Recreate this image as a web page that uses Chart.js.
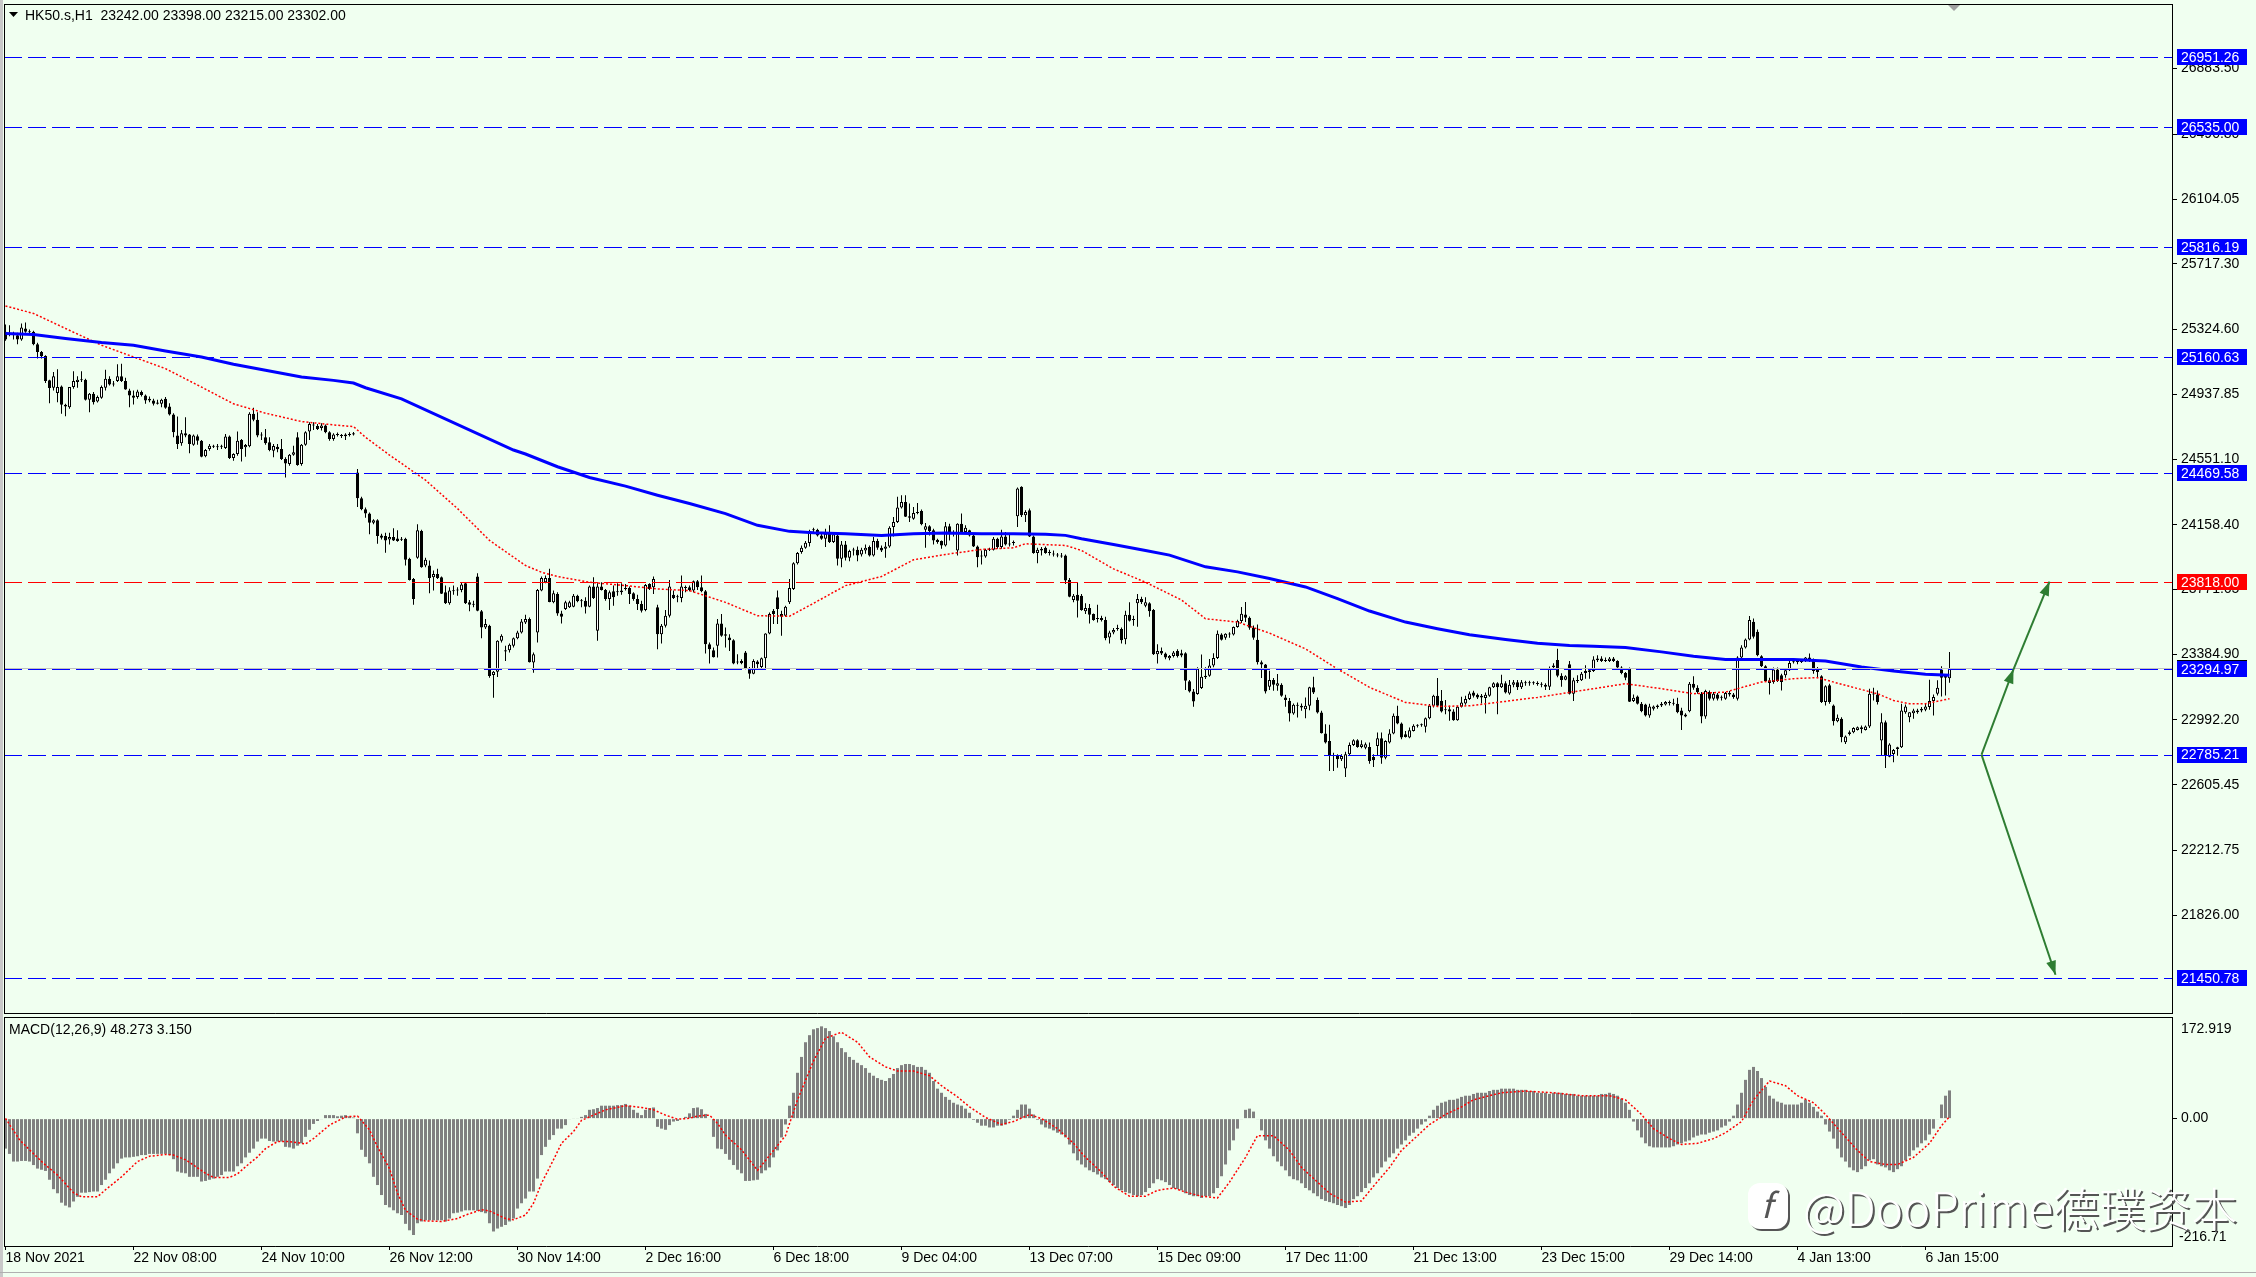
<!DOCTYPE html>
<html>
<head>
<meta charset="utf-8">
<script src="https://cdn.jsdelivr.net/npm/chart.js@4.4.0/dist/chart.umd.min.js"></script>
<style>
  html, body { margin: 0; padding: 0; background: #F0FFF0; }
  #wrap { position: relative; width: 2256px; height: 1277px; overflow: hidden; background: #F0FFF0; }
  canvas { position: absolute; left: 0; }
  #price { top: 0; }
  #macd { top: 1015px; }
</style>
</head>
<body>
<div id="wrap">
  <canvas id="price" width="2256" height="1015"></canvas>
  <canvas id="macd" width="2256" height="262"></canvas>
</div>
<script>
// HK50.s H1 candles, 18 Nov 2021 .. 6 Jan 2022
const opens = [
  25311,25301,25297,25291,25265,25331,25311,25311,25237,25191,
  25167,25021,24977,24945,24985,24875,24861,24981,25011,25021,
  25025,24905,24941,24895,24917,24977,25031,25001,25017,25045,
  25017,24961,24931,24921,24951,24931,24911,24901,24889,24881,
  24911,24865,24817,24691,24645,24705,24697,24637,24687,24661,
  24567,24611,24625,24625,24625,24617,24685,24557,24581,24665,
  24621,24627,24821,24785,24695,24681,24651,24601,24625,24611,
  24551,24521,24577,24681,24521,24637,24715,24757,24749,24737,
  24751,24711,24671,24695,24695,24687,24695,24697,24471,24317,
  24251,24225,24171,24185,24095,24091,24071,24085,24077,
  24075,24075,23955,23835,23961,24121,23915,23915,23845,23865,
  23845,23755,23689,23765,23765,23769,23809,23695,23685,23849,
  23641,23545,23555,23261,23281,23465,23409,23409,23435,23481,
  23515,23575,23595,23335,23515,23765,23815,23841,23695,23745,
  23629,23655,23665,23669,23735,23701,23705,23669,23789,23525,
  23789,23769,23715,23761,23755,23755,23775,23781,23749,23715,
  23685,23649,23805,23785,23665,23505,23555,23615,23741,23725,
  23721,23785,23785,23765,23821,23785,23761,23445,23409,23435,
  23569,23495,23485,23469,23341,23345,23395,23301,23269,23341,
  23309,23361,23509,23645,23725,23625,23615,23695,
  23775,23929,23995,24021,24049,24125,24129,24095,24075,24105,
  24055,24095,23955,24041,23961,24005,24009,23981,24005,24025,
  23975,24061,24021,24015,24029,24145,24175,24261,24295,24209,
  24195,24229,24241,24129,24149,24125,24069,24061,24035,24149,
  24115,24005,24165,24115,24125,24095,24029,23975,23969,24009,
  24009,24075,24025,24089,24045,24049,24209,24385,24215,24245,
  24089,23989,24005,24021,23995,23985,23981,23975,23975,23829,
  23709,23741,23735,23641,23661,23625,23601,23601,23589,23485,
  23515,23535,23535,23475,23621,23595,23689,23715,23675,23689,
  23649,23385,23405,23389,23361,23375,23405,
  23391,23391,23223,23163,23147,23183,23247,23257,23317,23363,
  23503,23483,23507,23503,23547,23583,23623,23603,23543,23471,
  23337,23323,23191,23231,23197,23203,23127,23107,23031,23077,
  23077,23057,23077,23187,23111,23037,22911,22867,22783,22777,
  22757,22703,22787,22843,22871,22831,22827,22831,22771,22837,
  22883,22767,22857,22911,23017,22971,22907,22887,22927,22957,
  22961,22951,23003,23077,23137,23107,23051,23057,23043,22991,
  23071,23091,23117,23157,23143,23137,23123,23137,23187,23211,
  23187,23211,23151,23203,23217,23187,23217,23211,23215,23211,
  23207,23203,23191,23317,23351,23257,23233,
  23325,23149,23229,23229,23273,23279,23285,23349,23359,23349,
  23345,23359,23345,23305,23273,23299,23105,23133,23089,23085,
  23019,23059,23069,23079,23085,23093,23093,23089,23049,23025,
  23045,23209,23185,23149,23013,23159,23119,23145,23125,23119,
  23153,23145,23119,23365,23425,23473,23579,23519,23373,23313,
  23229,23219,23293,23259,23259,23289,23339,23339,23339,23345,
  23365,23349,23299,23253,23099,23199,23079,22985,22999,22859,
  22909,22919,22933,22949,22933,22953,23149,23145,22869,22979,
  22773,22789,22819,22829,23039,23009,23033,23039,23049,23053,
  23069,23105,23149,23293,23259,23242
];
const highs = [
  25355,25351,25311,25305,25361,25367,25325,25317,25245,25197,
  25171,25025,25071,25087,24991,24881,24981,25075,25045,25075,
  25031,24945,24951,24931,24991,25085,25045,25017,25117,25121,
  25037,24971,24961,24965,24961,24937,24925,24911,24905,24911,
  24921,24885,24825,24805,24725,24801,24701,24697,24697,24665,
  24611,24641,24637,24641,24637,24701,24691,24585,24715,24671,
  24641,24831,24857,24831,24711,24731,24681,24641,24641,24671,
  24561,24581,24631,24711,24641,24717,24771,24771,24761,24765,
  24757,24717,24705,24709,24701,24705,24711,24713,24491,24325,
  24261,24231,24191,24191,24105,24111,24111,24137,24125,
  24085,24081,23961,23841,24161,24129,23961,23945,23885,23895,
  23849,23795,23785,23795,23785,23815,23815,23709,23705,23869,
  23649,23595,23561,23285,23469,23505,23435,23449,23485,23525,
  23595,23621,23605,23395,23775,23849,23855,23895,23765,23755,
  23645,23705,23705,23745,23741,23715,23725,23795,23845,23809,
  23815,23775,23765,23795,23809,23809,23805,23789,23755,23741,
  23705,23805,23809,23849,23681,23565,23649,23829,23765,23741,
  23855,23795,23795,23825,23829,23855,23769,23455,23425,23595,
  23625,23545,23505,23475,23385,23355,23405,23309,23355,23349,
  23365,23511,23635,23655,23765,23645,23675,23835,
  23935,23995,24035,24061,24129,24141,24135,24105,24135,24155,
  24115,24101,24061,24061,24009,24021,24029,24021,24041,24035,
  24085,24075,24035,24055,24149,24205,24325,24335,24335,24285,
  24265,24289,24249,24169,24155,24135,24075,24065,24175,24165,
  24125,24167,24225,24155,24129,24101,24035,24005,24015,24021,
  24085,24081,24129,24115,24109,24065,24381,24389,24245,24255,
  24095,24021,24025,24029,24009,24005,23989,23989,23981,23841,
  23745,23815,23745,23689,23685,23629,23681,23615,23609,23525,
  23541,23561,23545,23645,23695,23615,23745,23729,23725,23695,
  23655,23445,23425,23395,23381,23405,23415,
  23411,23397,23231,23177,23307,23383,23307,23357,23391,23527,
  23511,23511,23517,23551,23591,23667,23697,23611,23557,23563,
  23347,23327,23287,23243,23267,23211,23143,23123,23091,23097,
  23091,23127,23191,23251,23127,23047,22967,22963,22797,22787,
  22787,22803,22857,22877,22877,22871,22857,22857,22787,22917,
  22917,22871,22937,23031,23077,22977,22927,22947,22967,22967,
  22971,23007,23087,23143,23243,23171,23111,23077,23057,23077,
  23131,23137,23163,23167,23151,23147,23157,23191,23217,23217,
  23263,23223,23231,23231,23231,23231,23227,23227,23223,23223,
  23217,23211,23311,23331,23417,23271,23259,
  23345,23245,23259,23279,23319,23293,23373,23379,23373,23365,
  23369,23369,23349,23313,23279,23305,23145,23139,23099,23089,
  23089,23079,23085,23099,23105,23109,23119,23125,23065,23033,
  23219,23253,23199,23159,23173,23169,23159,23153,23139,23159,
  23165,23153,23373,23439,23479,23613,23599,23533,23379,23319,
  23245,23305,23305,23269,23293,23345,23345,23349,23353,23369,
  23389,23359,23309,23259,23199,23209,23085,23025,23009,22899,
  22929,22949,22953,22959,22959,23179,23185,23169,23033,22989,
  22853,22819,22833,23089,23085,23039,23059,23059,23069,23089,
  23233,23145,23229,23313,23265,23398
];
const lows = [
  25257,25285,25265,25237,25257,25305,25297,25231,25151,25151,
  25005,24885,24961,24891,24821,24807,24851,24971,24977,25011,
  24901,24831,24877,24889,24911,24961,24991,24985,25011,25011,
  24965,24861,24877,24911,24925,24881,24891,24871,24877,24861,
  24851,24811,24681,24611,24631,24681,24585,24631,24637,24561,
  24561,24601,24617,24605,24611,24611,24551,24541,24571,24537,
  24565,24621,24777,24681,24665,24637,24597,24561,24591,24545,
  24441,24511,24571,24511,24511,24631,24665,24725,24725,24721,
  24705,24661,24661,24685,24677,24665,24685,24691,24265,24245,
  24201,24101,24161,24045,24071,23991,24041,24061,24057,
  24061,23915,23825,23681,23955,23901,23905,23749,23765,23835,
  23745,23685,23681,23741,23735,23755,23685,23641,23665,23641,
  23481,23535,23245,23125,23249,23455,23345,23395,23425,23475,
  23509,23565,23335,23275,23455,23761,23809,23695,23689,23615,
  23569,23649,23661,23665,23695,23665,23629,23665,23715,23465,
  23765,23705,23649,23675,23735,23741,23765,23685,23705,23649,
  23635,23641,23769,23745,23415,23449,23545,23605,23715,23695,
  23695,23755,23761,23755,23769,23755,23389,23329,23365,23365,
  23489,23425,23405,23325,23325,23325,23295,23239,23265,23301,
  23301,23295,23505,23565,23565,23495,23609,23685,
  23769,23921,23985,24015,24029,24115,24089,24069,24025,24049,
  24049,23915,23905,23945,23941,23975,23941,23969,23985,23969,
  23969,24009,23995,23961,24021,24089,24169,24255,24205,24175,
  24189,24221,24155,24021,24095,24041,24045,24015,24029,24065,
  24089,23975,24109,24109,24089,24025,23905,23921,23961,24001,
  24005,24015,24015,24035,24029,24035,24145,24205,24175,24085,
  23985,23929,23975,23985,23975,23969,23965,23961,23805,23725,
  23695,23605,23645,23625,23569,23585,23575,23581,23469,23449,
  23505,23525,23449,23445,23581,23555,23549,23685,23665,23609,
  23381,23329,23381,23355,23349,23365,23365,
  23367,23171,23157,23071,23143,23177,23237,23251,23307,23357,
  23467,23471,23483,23497,23543,23571,23577,23531,23471,23323,
  23243,23151,23171,23167,23167,23131,23071,22983,23023,23007,
  23047,23003,23051,23147,23031,22911,22851,22687,22687,22707,
  22747,22651,22777,22837,22827,22823,22817,22731,22711,22777,
  22731,22757,22851,22907,22967,22877,22887,22883,22923,22947,
  22951,22917,22997,23067,23071,23037,23027,22987,22987,22987,
  23067,23083,23111,23127,23117,23091,23031,23131,23183,23027,
  23183,23151,23143,23187,23171,23177,23197,23197,23203,23197,
  23187,23171,23171,23297,23247,23191,23229,
  23145,23105,23213,23225,23239,23239,23279,23339,23339,23339,
  23339,23339,23299,23265,23229,23099,23099,23085,23039,23013,
  23005,23049,23059,23069,23079,23079,23079,23033,22933,23009,
  23039,23173,23149,22973,22999,23109,23109,23109,23109,23113,
  23133,23119,23109,23359,23419,23469,23479,23373,23309,23219,
  23145,23209,23219,23169,23245,23285,23329,23325,23333,23339,
  23339,23269,23249,23093,23079,23089,22959,22979,22859,22849,
  22899,22913,22929,22913,22929,22945,23109,23085,22779,22705,
  22769,22739,22779,22825,23029,22979,22999,23029,23039,23045,
  23053,23019,23139,23133,23139,23215
];
const closes = [
  25265,25297,25291,25265,25337,25311,25309,25237,25191,25165,
  25017,24975,25045,24981,24875,24865,24981,25017,25025,25025,
  24905,24941,24891,24921,24981,25031,24997,24997,25045,25017,
  24967,24931,24917,24955,24933,24901,24901,24881,24881,24905,
  24857,24817,24711,24641,24705,24691,24641,24691,24661,24565,
  24605,24631,24627,24621,24629,24685,24557,24581,24661,24611,
  24635,24821,24785,24691,24691,24645,24605,24629,24609,24551,
  24525,24577,24591,24515,24637,24711,24761,24751,24731,24751,
  24711,24671,24697,24697,24689,24697,24697,24705,24317,24251,
  24225,24171,24185,24091,24081,24065,24085,24065,24061,
  24069,23949,23829,23715,24125,23905,23949,23841,23865,23841,
  23747,23689,23765,23761,23769,23801,23689,23681,23681,23645,
  23545,23565,23255,23281,23465,23495,23401,23441,23481,23515,
  23581,23595,23337,23385,23769,23841,23841,23697,23749,23629,
  23609,23695,23695,23735,23701,23703,23669,23789,23721,23789,
  23769,23715,23755,23725,23759,23765,23779,23745,23715,23685,
  23645,23799,23775,23835,23505,23555,23615,23789,23721,23729,
  23789,23781,23769,23821,23785,23761,23445,23415,23367,23569,
  23495,23505,23469,23329,23335,23331,23301,23269,23345,23325,
  23361,23509,23625,23625,23655,23609,23669,23781,
  23929,23989,24021,24051,24121,24129,24095,24075,24105,24055,
  24101,23955,24041,23961,24001,24009,23975,24009,24021,23975,
  24061,24021,24005,24029,24141,24175,24261,24295,24207,24201,
  24229,24235,24161,24149,24121,24065,24055,24035,24149,24109,
  24105,24165,24115,24141,24095,24029,23965,23969,24009,24011,
  24075,24025,24089,24041,24041,24053,24375,24215,24235,24089,
  23989,24009,24015,23989,23989,23981,23975,23969,23825,23729,
  23735,23705,23649,23661,23621,23589,23595,23589,23481,23515,
  23529,23539,23469,23621,23585,23589,23715,23695,23695,23641,
  23385,23405,23389,23365,23375,23395,23375,
  23377,23227,23163,23103,23297,23251,23257,23317,23363,23507,
  23471,23507,23503,23547,23583,23627,23603,23543,23483,23337,
  23323,23163,23231,23203,23211,23137,23111,23031,23083,23083,
  23067,23077,23187,23157,23037,22913,22857,22783,22777,22757,
  22777,22787,22843,22871,22831,22847,22847,22747,22751,22883,
  22767,22867,22911,23017,22971,22887,22891,22931,22957,22961,
  22967,23003,23077,23137,23077,23043,23057,23043,22991,23071,
  23097,23117,23151,23137,23127,23127,23143,23187,23211,23187,
  23211,23157,23203,23217,23187,23217,23211,23215,23211,23207,
  23203,23191,23303,23307,23257,23231,23253,
  23149,23229,23225,23269,23285,23289,23353,23359,23345,23345,
  23359,23345,23305,23273,23245,23101,23125,23089,23045,23019,
  23073,23073,23079,23089,23099,23099,23089,23039,23019,23013,
  23209,23185,23159,23013,23165,23119,23149,23119,23129,23153,
  23145,23129,23365,23425,23473,23589,23489,23379,23313,23225,
  23213,23293,23225,23219,23289,23333,23337,23343,23349,23365,
  23349,23285,23279,23099,23193,23099,22985,23005,22889,22893,
  22919,22945,22949,22939,22953,23149,23145,23099,22979,22779,
  22845,22813,22829,23049,23073,23039,23049,23049,23059,23073,
  23105,23129,23185,23245,23245,23302
];

// moving averages, sampled along the lines (candle index, price)
const blueMaIdx = [0,7,15,24,32,40,49,57,65,74,82,87,90,99,127,130,138,146,155,163,
  171,180,188,196,202,210,219,227,235,244,252,260,265,269,277,285,291,300,308,316,
  325,333,341,350,358,366,375,383,391,397,405,414,422,430,439,447,455,464,472,480,486];
const blueMaVals = [25301,25295,25271,25247,25231,25197,25161,25117,25081,25041,
  25021,25005,24977,24911,24605,24581,24505,24441,24389,24335,
  24285,24225,24155,24119,24111,24105,24095,24105,24109,24105,
  24105,24101,24095,24075,24041,24005,23977,23907,23877,23837,
  23787,23717,23643,23577,23537,23501,23473,23451,23437,23433,
  23425,23399,23373,23353,23353,23353,23345,23309,23285,23265,23259];
const redMaIdx = [0,7,15,24,32,40,49,57,65,74,82,87,90,96,105,113,121,130,134,138,
  146,155,163,171,180,188,196,202,210,219,227,235,244,252,255,265,269,277,285,294,
  300,308,316,325,333,341,350,358,366,375,383,391,397,405,414,422,430,439,447,453,
  460,468,472,476,480,486];
const redMaVals = [25465,25421,25331,25231,25161,25091,24981,24881,24825,24775,
  24755,24745,24681,24575,24425,24255,24065,23915,23875,23849,
  23815,23795,23775,23765,23695,23615,23612,23689,23795,23849,
  23949,23981,24011,24021,24045,24035,24005,23895,23815,23709,
  23597,23577,23511,23417,23297,23187,23097,23073,23077,23103,
  23127,23157,23179,23209,23179,23149,23159,23219,23239,23245,
  23199,23149,23109,23089,23089,23119];

// MACD(12,26,9) main line drawn as histogram, one value per candle
const macdHist = [
  -51,-60,-73,-73,-72,-72,-73,-79,-85,-87,
  -89,-104,-120,-127,-143,-148,-151,-141,-133,-126,
  -126,-125,-124,-124,-113,-104,-93,-85,-76,-68,
  -66,-66,-65,-64,-62,-62,-60,-60,-60,-60,
  -60,-62,-69,-90,-92,-93,-99,-99,-99,-107,
  -106,-104,-102,-99,-96,-90,-90,-90,-81,-76,
  -66,-58,-51,-39,-34,-34,-38,-39,-39,-39,
  -48,-49,-51,-46,-42,-31,-19,-9,-4,-1,
  6,6,6,4,5,6,4,2,-25,-53,
  -65,-76,-99,-113,-130,-147,-151,-156,-161,-164,
  -179,-190,-198,-178,-175,-173,-173,-173,-173,-173,
  -175,-170,-161,-160,-158,-156,-156,-156,-157,-159,
  -161,-178,-192,-187,-184,-181,-175,-170,-153,-144,
  -136,-124,-124,-102,-62,-48,-36,-28,-17,-17,
  -11,-1,1,1,3,6,15,16,18,22,
  22,22,22,23,23,25,22,15,10,6,
  15,18,19,-14,-17,-19,-11,-5,-4,1,
  3,9,18,19,16,8,-1,-31,-51,-52,
  -60,-70,-79,-87,-93,-106,-106,-105,-104,
  -93,-88,-83,-66,-54,-32,-10,22,44,78,
  105,130,142,152,154,157,154,149,140,130,
  120,113,105,100,95,91,86,78,73,69,
  66,64,69,76,86,91,93,93,91,88,
  88,83,78,64,51,44,37,32,27,24,
  22,17,10,-2,-7,-12,-12,-15,-15,-12,
  -12,-10,-2,5,15,24,24,17,7,-2,
  -10,-15,-17,-20,-24,-27,-32,-44,-59,-71,
  -78,-83,-88,-91,-95,-100,-103,-108,-113,-118,
  -122,-125,-127,-130,-132,-130,-125,-118,-110,-103,
  -105,-108,-113,-118,-120,-122,-127,-130,-132,-132,
  -135,-132,-132,-127,-118,-98,-78,-54,-37,-17,
  -1,15,17,12,-1,-20,-37,-51,-64,-73,
  -81,-88,-98,-103,-105,-110,-118,-122,-127,-132,
  -137,-140,-142,-144,-147,-149,-152,-147,-137,-132,
  -125,-118,-110,-100,-93,-83,-73,-66,-59,-51,
  -44,-37,-29,-24,-17,-10,-5,5,15,22,
  27,29,32,32,34,37,39,39,42,44,
  44,44,47,49,49,51,51,51,51,49,
  49,49,47,47,44,44,44,42,44,44,
  44,42,42,42,39,39,39,39,39,39,
  42,42,44,42,39,34,27,15,-5,-20,
  -32,-42,-47,-49,-49,-49,-49,-49,-47,-44,
  -42,-39,-37,-32,-29,-27,-27,-24,-22,-20,
  -15,-12,-5,5,24,44,66,83,88,81,
  69,54,39,34,29,27,24,24,24,24,
  27,32,27,20,12,5,-10,-22,-34,-51,
  -66,-73,-83,-88,-91,-86,-81,-71,-69,-78,
  -81,-83,-88,-91,-86,-81,-71,-64,-54,-49,
  -42,-37,-27,-17,-1,24,39,48
];
// MACD signal line, sampled along the dotted line (candle index, value)
const signalIdx = [0,3.5,6,9.5,13,17,19,23,25,29,33,36,40,42,45,47,50,52,56,58,
  60,63,65,68,71,75,77,81,85,88,91,93,96,98,100,103,105,109,113,115,
  119,121,125,127,130,132,134,137,139,142,144,147,150,155,159,162,165,168,171,173,
  176,178,180,184,188,195,198,202,205,209,213,216,220,223,227,231,234,238,241,245,
  249,252,256,259,263,267,270,274,277,281,285,288,292,295,299,303,306,310,313,317,
  321,324,328,331,335,339,342,346,349,353,356,360,364,367,371,374,380,387,394,401,
  405,409,412,416,419,423,427,430,434,437,441,445,448,452,455,459,463,466,470,473,
  477,481,484,486];
const signalVals = [0.5,-36,-53,-76,-96,-126,-133,-133,-121,-99,-73,-64,-61,-62,-70,-79,-93,-100,-100,-94,
  -82,-65,-51,-39,-39,-43,-34,-11,3,4.5,-19,-48,-85,-127,-156,-171,-174,-175,-170,-164,
  -155,-157,-170,-172,-164,-144,-110,-70,-42,-22,-3,6,15,22,19,15,6,-1,0.5,4.5,
  6,-8,-28,-53,-88,-29,32,98,137,147,130,105,88,81,81,73,56,37,20,2,
  -10,-5,7,0,-17,-42,-66,-91,-115,-132,-132,-122,-118,-125,-132,-135,-108,-66,-29,-29,
  -54,-83,-108,-127,-142,-140,-115,-83,-54,-29,-10,7,20,32,39,44,47,44,39,39,
  32,7,-17,-34,-44,-42,-34,-24,-5,32,64,56,39,27,7,-24,-54,-73,-78,-78,
  -66,-42,-12,3.15];

// horizontal levels
const levels = [26951.26, 26535.00, 25816.19, 25160.63, 24469.58, 23818.00, 23294.97, 22785.21, 21450.78];
const levelColors = ['#0000FF','#0000FF','#0000FF','#0000FF','#0000FF','#FF0000','#0000FF','#0000FF','#0000FF'];
const bidPrice = 23302.00;

// green arrows (candle index, price)
const arrowsFrom = [[494, 22785.21], [502, 23294.97], [494, 22785.21]];
const arrowsTo = [[502, 23294.97], [511, 23818.00], [512.5, 21470]];

const priceTicks = [26883.50, 26490.80, 26104.05, 25717.30, 25324.60, 24937.85, 24551.10,
  24158.40, 23771.65, 23384.90, 22992.20, 22605.45, 22212.75, 21826.00];
const dateIdx = [0,32,64,96,128,160,192,224,256,288,320,352,384,416,448,480];
const dateLabels = ['18 Nov 2021','22 Nov 08:00','24 Nov 10:00','26 Nov 12:00','30 Nov 14:00',
  '2 Dec 16:00','6 Dec 18:00','9 Dec 04:00','13 Dec 07:00','15 Dec 09:00','17 Dec 11:00',
  '21 Dec 13:00','23 Dec 15:00','29 Dec 14:00','4 Jan 13:00','6 Jan 15:00'];

const FONT = '"Liberation Sans", Arial, sans-serif';
Chart.defaults.font.family = FONT;
Chart.defaults.font.size = 14;
Chart.defaults.color = '#000';

const xMin = -0.375, xMax = 541.625;

const wicks = lows.map((l, i) => ({ x: i, y: [l, highs[i]] }));
const bodies = opens.map((o, i) => ({ x: i, y: [o, closes[i]] }));
const bodyFill = opens.map((o, i) => closes[i] >= o ? '#FFFFFF' : '#000000');

function drawArrow(ctx, x0, y0, x1, y1) {
  ctx.beginPath(); ctx.moveTo(x0, y0); ctx.lineTo(x1, y1); ctx.stroke();
  const a = Math.atan2(y1 - y0, x1 - x0), L = 14, W = 5;
  ctx.beginPath();
  ctx.moveTo(x1, y1);
  ctx.lineTo(x1 - L * Math.cos(a) + W * Math.sin(a), y1 - L * Math.sin(a) - W * Math.cos(a));
  ctx.lineTo(x1 - L * Math.cos(a) - W * Math.sin(a), y1 - L * Math.sin(a) + W * Math.cos(a));
  ctx.closePath(); ctx.fill();
}

const priceOverlay = {
  id: 'priceOverlay',
  afterDatasetsDraw(chart) {
    const { ctx, chartArea: a, scales: { x, y } } = chart;
    ctx.save();
    ctx.beginPath(); ctx.rect(a.left, a.top, a.right - a.left, a.bottom - a.top); ctx.clip();
    ctx.lineWidth = 1;
    let py = Math.round(y.getPixelForValue(bidPrice)) + 0.5;
    ctx.strokeStyle = '#C0C0C0';
    ctx.beginPath(); ctx.moveTo(a.left, py); ctx.lineTo(a.right, py); ctx.stroke();
    ctx.setLineDash([18, 6]);
    levels.forEach((v, k) => {
      const ly = Math.round(y.getPixelForValue(v)) + 0.5;
      ctx.strokeStyle = levelColors[k];
      ctx.beginPath(); ctx.moveTo(a.left, ly); ctx.lineTo(a.right, ly); ctx.stroke();
    });
    ctx.setLineDash([]);
    ctx.strokeStyle = '#2E7D32'; ctx.fillStyle = '#2E7D32'; ctx.lineWidth = 2;
    arrowsFrom.forEach((f, k) => {
      const t = arrowsTo[k];
      drawArrow(ctx, x.getPixelForValue(f[0]), y.getPixelForValue(f[1]),
        x.getPixelForValue(t[0]), y.getPixelForValue(t[1]));
    });
    ctx.restore();
  },
  afterDraw(chart) {
    const { ctx, chartArea: a, scales: { y } } = chart;
    ctx.save();
    // frame
    ctx.strokeStyle = '#000'; ctx.lineWidth = 1;
    ctx.beginPath();
    ctx.moveTo(a.left + 0.5, a.top); ctx.lineTo(a.left + 0.5, a.bottom + 1);
    ctx.moveTo(a.left, a.top + 0.5); ctx.lineTo(a.right, a.top + 0.5);
    ctx.moveTo(a.left, a.bottom + 0.5); ctx.lineTo(a.right + 1, a.bottom + 0.5);
    ctx.stroke();
    ctx.fillStyle = '#C8C8C8';
    ctx.fillRect(0, 0, 3, chart.height);
    // price boxes on the axis
    ctx.font = '14px ' + FONT; ctx.textBaseline = 'middle'; ctx.textAlign = 'left';
    const box = (v, col) => {
      const cy = y.getPixelForValue(v);
      ctx.fillStyle = col; ctx.fillRect(a.right + 5, Math.round(cy - 8), 70, 16);
      ctx.fillStyle = '#FFFFFF'; ctx.fillText(v.toFixed(2), a.right + 9, cy + 1);
    };
    box(bidPrice, '#000000');
    levels.forEach((v, k) => box(v, levelColors[k]));
    // title
    ctx.fillStyle = '#000';
    ctx.beginPath(); ctx.moveTo(9, 12); ctx.lineTo(18, 12); ctx.lineTo(13.5, 17); ctx.closePath(); ctx.fill();
    ctx.fillText('HK50.s,H1  23242.00 23398.00 23215.00 23302.00', 25, 16);
    // chart shift marker
    ctx.fillStyle = '#A0A0A0';
    ctx.beginPath(); ctx.moveTo(1948, 5); ctx.lineTo(1960, 5); ctx.lineTo(1954, 11); ctx.closePath(); ctx.fill();
    ctx.restore();
  }
};

new Chart(document.getElementById('price'), {
  type: 'bar',
  data: {
    datasets: [
      { type: 'line', data: blueMaIdx.map((v, i) => ({ x: v, y: blueMaVals[i] })),
        borderColor: '#0000FF', borderWidth: 3, pointRadius: 0, order: 0 },
      { type: 'line', data: redMaIdx.map((v, i) => ({ x: v, y: redMaVals[i] })),
        borderColor: '#FF0000', borderWidth: 1.5, borderDash: [2, 2], pointRadius: 0, order: 1 },
      { data: bodies, backgroundColor: bodyFill, borderColor: '#000000', borderWidth: 1,
        borderSkipped: false, barThickness: 3, minBarLength: 1, grouped: false, inflateAmount: 0, order: 2 },
      { data: wicks, backgroundColor: '#000000', borderWidth: 0, barThickness: 1,
        grouped: false, inflateAmount: 0, order: 3 }
    ]
  },
  options: {
    responsive: false, animation: false, devicePixelRatio: 1, events: [],
    layout: { padding: { left: 4, top: 4, right: 0, bottom: 2 } },
    plugins: { legend: { display: false }, tooltip: { enabled: false } },
    scales: {
      x: { type: 'linear', min: xMin, max: xMax, offset: false, display: false },
      y: {
        position: 'right', min: 21241.7, max: 27269.4,
        afterBuildTicks: s => { s.ticks = priceTicks.map(v => ({ value: v })); },
        afterFit: s => { s.width = 84; s.paddingTop = 0; s.paddingBottom = 0; },
        ticks: { autoSkip: false, padding: 4, color: '#000', callback: v => v.toFixed(2) },
        grid: { drawOnChartArea: false, tickLength: 5, color: '#000' },
        border: { color: '#000' }
      }
    }
  },
  plugins: [priceOverlay]
});

const macdOverlay = {
  id: 'macdOverlay',
  afterDraw(chart) {
    const { ctx, chartArea: a } = chart;
    ctx.save();
    ctx.strokeStyle = '#000'; ctx.lineWidth = 1;
    ctx.beginPath();
    ctx.moveTo(a.left + 0.5, a.top); ctx.lineTo(a.left + 0.5, a.bottom);
    ctx.moveTo(a.left, a.top + 0.5); ctx.lineTo(a.right, a.top + 0.5);
    ctx.stroke();
    ctx.fillStyle = '#C8C8C8';
    ctx.fillRect(0, 0, 3, chart.height);
    // tab strip under the time axis
    ctx.strokeStyle = '#B0B0B0';
    ctx.beginPath(); ctx.moveTo(0, chart.height - 4.5); ctx.lineTo(chart.width, chart.height - 4.5); ctx.stroke();
    ctx.fillStyle = '#000'; ctx.font = '14px ' + FONT; ctx.textBaseline = 'middle';
    ctx.fillText('MACD(12,26,9) 48.273 3.150', 9, a.top + 13);
    ctx.fillText('172.919', a.right + 9, a.top + 12);
    ctx.fillText('-216.71', a.right + 7, a.bottom - 9);
    // watermark
    const wx = 1748, base = a.top + 209;
    ctx.font = '300 46px "Noto Sans CJK SC", sans-serif';
    ctx.textBaseline = 'alphabetic';
    ctx.fillStyle = '#555';
    ctx.fillText('@DooPrime德璞资本', 1805, base + 2);
    ctx.fillStyle = '#FFFFFF';
    ctx.fillText('@DooPrime德璞资本', 1803, base);
    ctx.fillStyle = '#555';
    ctx.beginPath(); ctx.roundRect(wx + 2, base - 41, 40, 46, 12); ctx.fill();
    ctx.fillStyle = '#FFFFFF';
    ctx.beginPath(); ctx.roundRect(wx, base - 43, 40, 46, 12); ctx.fill();
    ctx.fillStyle = '#555'; ctx.font = 'italic 34px "Noto Sans CJK SC", sans-serif';
    ctx.fillText('f', wx + 13, base - 8);
    ctx.restore();
  }
};

new Chart(document.getElementById('macd'), {
  type: 'bar',
  data: {
    datasets: [
      { type: 'line', data: signalIdx.map((v, i) => ({ x: v, y: signalVals[i] })),
        borderColor: '#FF0000', borderWidth: 1.5, borderDash: [2, 2], pointRadius: 0, order: 0 },
      { data: macdHist.map((v, i) => ({ x: i, y: v })), backgroundColor: '#808080',
        barThickness: 3, grouped: false, inflateAmount: 0, order: 1 }
    ]
  },
  options: {
    responsive: false, animation: false, devicePixelRatio: 1, events: [],
    layout: { padding: { left: 4, top: 2, right: 0, bottom: 0 } },
    plugins: { legend: { display: false }, tooltip: { enabled: false } },
    scales: {
      x: {
        type: 'linear', min: xMin, max: xMax, offset: false, position: 'bottom',
        afterBuildTicks: s => { s.ticks = dateIdx.map(v => ({ value: v })); },
        afterFit: s => { s.height = 31; s.paddingLeft = 0; s.paddingRight = 0; },
        ticks: { autoSkip: false, maxRotation: 0, align: 'start', padding: 0, color: '#000',
          callback: (v, i) => dateLabels[i] },
        grid: { drawOnChartArea: false, offset: false, tickLength: 4, color: '#000' },
        border: { color: '#000' }
      },
      y: {
        position: 'right', min: -216.71, max: 172.919,
        afterBuildTicks: s => { s.ticks = [{ value: 0 }]; },
        afterFit: s => { s.width = 84; s.paddingTop = 0; s.paddingBottom = 0; },
        ticks: { padding: 4, color: '#000', callback: v => v.toFixed(2) },
        grid: { drawOnChartArea: false, tickLength: 5, color: '#000' },
        border: { color: '#000' }
      }
    }
  },
  plugins: [macdOverlay]
});
</script>
</body>
</html>
